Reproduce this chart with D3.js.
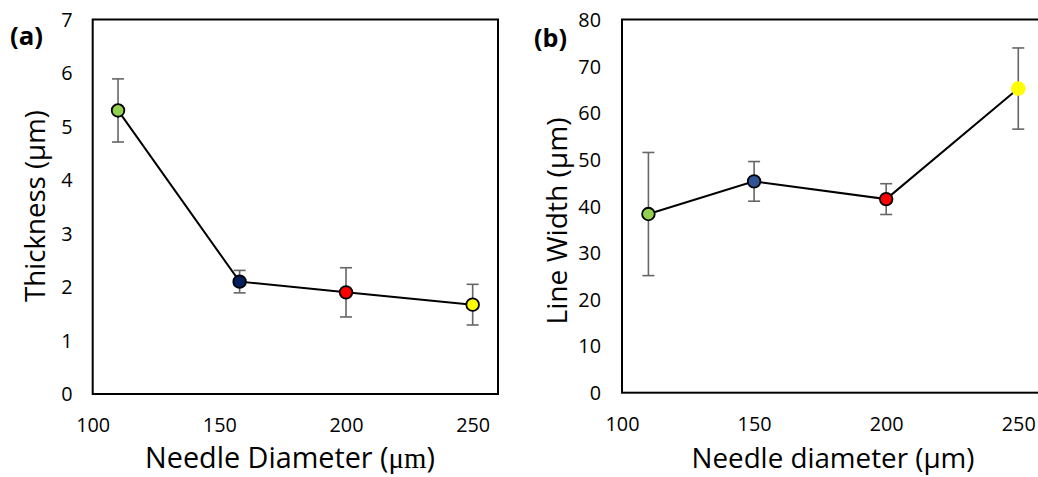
<!DOCTYPE html>
<html>
<head>
<meta charset="utf-8">
<script src="https://cdn.jsdelivr.net/npm/d3@7"></script>
<style>
  html, body { margin: 0; padding: 0; background: #fff; }
  svg { display: block; }
</style>
</head>
<body>
<svg id="chart" width="1038" height="477"></svg>
<script>
// ---- Data ----
const xTicks = [100, 150, 200, 250];

// Panel (a)
const diametersA = [110, 158, 200, 250];
const thickness = [5.30, 2.10, 1.90, 1.67];
const thicknessErr = [0.59, 0.21, 0.46, 0.38];
const colorsA = ["#92D050", "#002060", "#FF0000", "#FFFF00"];
const yTicksA = [0, 1, 2, 3, 4, 5, 6, 7];

// Panel (b)
const diametersB = [110, 150, 200, 250];
const lineWidth = [38.3, 45.3, 41.5, 65.2];
const lineWidthErr = [13.2, 4.25, 3.3, 8.7];
const colorsB = ["#92D050", "#2F5597", "#FF0000", "#FFFF00"];
const strokeB = ["#000", "#000", "#000", "none"];
const yTicksB = [0, 10, 20, 30, 40, 50, 60, 70, 80];

const FONT = "'Open Sans', 'DejaVu Sans', sans-serif";
const svg = d3.select("#chart");

function fitText(sel, target, size) {
  sel.attr("font-size", size);
  const w = sel.node().getComputedTextLength();
  sel.attr("font-size", size * target / w);
}

// tick font size chosen so that "100" is ~34px wide, as in the reference
const probe = svg.append("text").attr("font-family", FONT).attr("font-size", 20).text("100");
const TICK_FS = 20 * 34 / probe.node().getComputedTextLength();
probe.remove();

function panel(cfg) {
  const x = d3.scaleLinear().domain([100, 260]).range([cfg.left, cfg.left + cfg.xw]);
  const y = d3.scaleLinear().domain(cfg.yDomain).range([cfg.bottom, cfg.top]);
  const g = svg.append("g");

  // y axis labels
  const ya = g.append("g").attr("transform", `translate(${cfg.left},0)`)
    .call(d3.axisLeft(y).tickValues(cfg.yTicks).tickSize(0).tickFormat(d3.format("d")));
  ya.select(".domain").remove();
  ya.attr("font-size", null).attr("font-family", null);
  ya.selectAll("text").attr("x", -cfg.yPad).attr("dy", "0.35em")
    .attr("font-family", FONT).attr("font-size", TICK_FS).attr("fill", "#000");

  // x axis labels
  const xa = g.append("g").attr("transform", `translate(0,${cfg.bottom})`)
    .call(d3.axisBottom(x).tickValues(xTicks).tickSize(0).tickFormat(d3.format("d")));
  xa.select(".domain").remove();
  xa.attr("font-size", null).attr("font-family", null);
  xa.selectAll("text").attr("y", 31).attr("dy", "0.35em")
    .attr("font-family", FONT).attr("font-size", TICK_FS).attr("fill", "#000");

  // frame
  g.append("rect").attr("x", cfg.left).attr("y", cfg.top)
    .attr("width", x(260) - cfg.left).attr("height", cfg.bottom - cfg.top)
    .attr("fill", "none").attr("stroke", "#000").attr("stroke-width", 2);

  const pts = cfg.xs.map((d, i) => ({ x: d, y: cfg.ys[i], e: cfg.es[i], c: cfg.colors[i], s: cfg.strokes[i] }));

  // error bars
  const eb = g.append("g").attr("stroke", "#666").attr("stroke-width", 1.6);
  pts.forEach(p => {
    eb.append("line").attr("x1", x(p.x)).attr("x2", x(p.x)).attr("y1", y(p.y - p.e)).attr("y2", y(p.y + p.e));
    [p.y - p.e, p.y + p.e].forEach(v => {
      eb.append("line").attr("x1", x(p.x) - 6).attr("x2", x(p.x) + 6).attr("y1", y(v)).attr("y2", y(v));
    });
  });

  // line
  g.append("path").datum(pts)
    .attr("d", d3.line().x(d => x(d.x)).y(d => y(d.y)))
    .attr("fill", "none").attr("stroke", "#000").attr("stroke-width", 2);

  // markers
  g.selectAll("circle.m").data(pts).join("circle").attr("class", "m")
    .attr("cx", d => x(d.x)).attr("cy", d => y(d.y))
    .attr("r", d => d.s === "none" ? 7.3 : 6.3)
    .attr("fill", d => d.c).attr("stroke", d => d.s).attr("stroke-width", 1.8);

  // panel label
  const lb = g.append("text").attr("x", cfg.labelX).attr("y", cfg.labelY).attr("dy", "0.35em")
    .attr("font-family", FONT).attr("font-weight", "bold")
    .text(cfg.label);
  fitText(lb, 33, 23);

  // y title
  const yt = g.append("text")
    .attr("transform", `translate(${cfg.ytX},${cfg.ytY}) rotate(-90)`)
    .attr("text-anchor", "middle").attr("dy", "0.35em")
    .attr("font-family", FONT).text(cfg.yTitle);
  fitText(yt, cfg.ytW, 25);

  // x title (baseline placed)
  const xt = g.append("text")
    .attr("x", cfg.xtX).attr("y", cfg.xtY).attr("text-anchor", "middle")
    .attr("font-family", FONT);
  if (cfg.serifMu) {
    xt.append("tspan").text(cfg.xTitle[0]);
    xt.append("tspan").attr("font-family", "'Liberation Serif', 'DejaVu Serif', serif").text(cfg.xTitle[1]);
    xt.append("tspan").text(cfg.xTitle[2]);
  } else {
    xt.text(cfg.xTitle);
  }
  fitText(xt, cfg.xtW, 25);
}

panel({
  left: 92.7, xw: 405.3, top: 19.5, bottom: 394, yDomain: [0, 7], yTicks: yTicksA, yPad: 20,
  xs: diametersA, ys: thickness, es: thicknessErr, colors: colorsA, strokes: ["#000", "#000", "#000", "#000"],
  label: "(a)", labelX: 10, labelY: 36,
  yTitle: "Thickness (µm)", ytX: 35, ytY: 206, ytW: 192,
  xTitle: ["Needle Diameter (", "μm", ")"], serifMu: true, xtX: 290, xtY: 468, xtW: 290
});

panel({
  left: 622, xw: 422.7, top: 19.5, bottom: 392.7, yDomain: [0, 80], yTicks: yTicksB, yPad: 21,
  xs: diametersB, ys: lineWidth, es: lineWidthErr, colors: colorsB, strokes: strokeB,
  label: "(b)", labelX: 534, labelY: 38,
  yTitle: "Line Width (µm)", ytX: 557, ytY: 221, ytW: 207,
  xTitle: "Needle diameter (µm)", serifMu: false, xtX: 833, xtY: 468, xtW: 283
});
</script>
</body>
</html>
